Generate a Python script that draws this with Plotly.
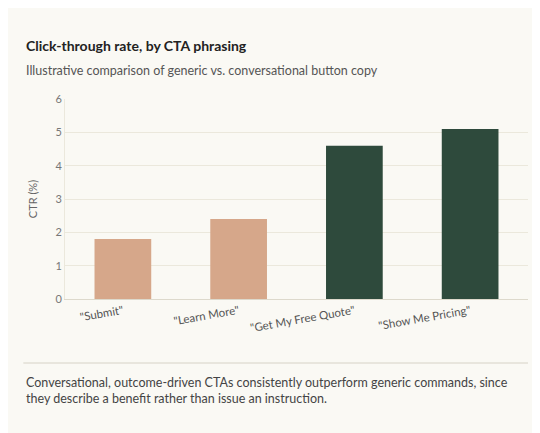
import plotly.graph_objects as go

categories = ['"Submit"', '"Learn More"', '"Get My Free Quote"', '"Show Me Pricing"']
ctr = [1.8, 2.4, 4.6, 5.1]
bar_colors = ["#d6a78a", "#d6a78a", "#2e4a3c", "#2e4a3c"]
y_ticks = [0, 1, 2, 3, 4, 5, 6]

fig = go.Figure(go.Bar(
    x=categories, y=ctr, marker_color=bar_colors,
    marker_line_width=0, width=0.49, hoverinfo="x+y"))

fig.update_layout(
    width=540, height=433,
    paper_bgcolor="#faf9f4", plot_bgcolor="#faf9f4",
    font=dict(family="Lato, sans-serif", color="#555", size=11),
    margin=dict(l=57, r=20, t=91, b=142),
    showlegend=False,
    bargap=0.5,
)
fig.update_xaxes(tickangle=-10, showline=True, linecolor="#ddd9cc",
                 tickfont=dict(size=11.5, color="#555"), ticks="")
fig.update_yaxes(range=[0, 6], tickvals=y_ticks, gridcolor="#ebe8dc",
                 showline=True, linecolor="#ebe8dc", zeroline=False,
                 title=dict(text="CTR (%)", font=dict(size=11, color="#666")),
                 tickfont=dict(size=11, color="#777"))

fig.add_annotation(text="<b>Click-through rate, by CTA phrasing</b>", xref="paper", yref="paper",
                   x=0, xanchor="left", xshift=-41, y=1, yshift=64, showarrow=False,
                   font=dict(size=14, color="#222"))
fig.add_annotation(text="Illustrative comparison of generic vs. conversational button copy",
                   xref="paper", yref="paper", x=0, xanchor="left", xshift=-41, y=1, yshift=38,
                   showarrow=False, font=dict(size=12.5, color="#555"))
fig.add_shape(type="line", xref="paper", yref="paper", x0=-0.09, x1=1.0,
              y0=-0.32, y1=-0.32, line=dict(color="#d6d2c6", width=1))
fig.add_annotation(text="Conversational, outcome-driven CTAs consistently outperform generic commands, since<br>they describe a benefit rather than issue an instruction.",
                   xref="paper", yref="paper", x=0, xanchor="left", xshift=-41, y=-0.37,
                   yanchor="top", align="left", showarrow=False,
                   font=dict(size=12.5, color="#444"))

fig.write_html("out.html")
